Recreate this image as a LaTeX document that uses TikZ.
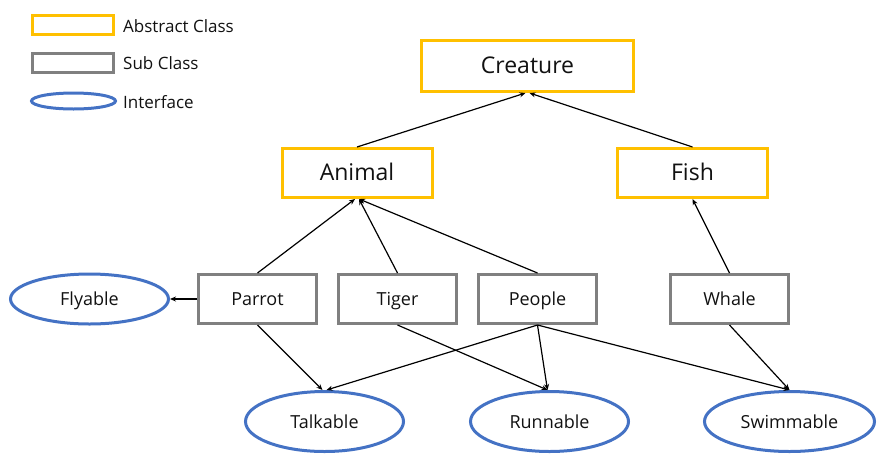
\documentclass[tikz,border=0pt]{standalone}
\usepackage{fontspec}
\setmainfont{Open Sans}
\usetikzlibrary{shapes.geometric,arrows.meta,positioning}
\definecolor{abstractyellow}{HTML}{FFC000}
\definecolor{subgray}{HTML}{808080}
\definecolor{ifaceblue}{HTML}{4472C4}
\definecolor{textdark}{HTML}{111111}

\begin{document}
\begin{tikzpicture}[x=1pt,y=-1pt,
    abstract/.style={draw=abstractyellow, line width=3pt, rectangle, inner sep=0pt,
        minimum width=150pt, minimum height=49pt, text=textdark,
        text height=19pt, text depth=4pt,
        font=\fontsize{23}{27}\selectfont},
    subclass/.style={draw=subgray, line width=3pt, rectangle, inner sep=0pt,
        minimum width=118pt, minimum height=49pt, text=textdark,
        text height=17pt, text depth=4pt,
        font=\fontsize{18}{22}\selectfont},
    interface/.style={draw=ifaceblue, line width=3pt, ellipse, inner sep=0pt,
        minimum width=158pt, minimum height=60pt, text=textdark,
        text height=17pt, text depth=4pt,
        font=\fontsize{18}{22}\selectfont},
    legendkey/.style={text height=0pt, text depth=0pt},
    legendtext/.style={text=textdark, font=\fontsize{17}{20}\selectfont, inner sep=0pt},
    arr/.style={-{Stealth[length=6pt,width=5pt]}, line width=1.2pt, black}]
    \useasboundingbox (0,0) rectangle (891,469);
    % Draw the legend
    \node[abstract, legendkey, minimum width=81pt, minimum height=19pt] (legabs) at (73,25) {};
    \node[subclass, legendkey, minimum width=81pt, minimum height=19pt] (legsub) at (73,62.5) {};
    \node[interface, legendkey, minimum width=84pt, minimum height=16pt] (legint) at (73.5,101) {};
    \node[legendtext, anchor=west] at (123,26) {Abstract Class};
    \node[legendtext, anchor=west] at (123,63.5) {Sub Class};
    \node[legendtext, anchor=west] at (123,102) {Interface};
    % Draw the abstract classes
    \node[abstract, minimum width=212pt, minimum height=51pt] (creature) at (527.5,66) {Creature};
    \node[abstract] (animal) at (357,173) {Animal};
    \node[abstract] (fish) at (692.5,173) {Fish};
    % Draw the sub classes
    \node[subclass] (parrot) at (257.5,299) {Parrot};
    \node[subclass] (tiger) at (397.5,299) {Tiger};
    \node[subclass] (people) at (537.5,299) {People};
    \node[subclass] (whale) at (729.5,299) {Whale};
    % Draw the interfaces
    \node[interface, minimum height=50pt] (flyable) at (89.5,299) {Flyable};
    \node[interface] (talkable) at (324.5,421.5) {Talkable};
    \node[interface] (runnable) at (549.5,421.5) {Runnable};
    \node[interface, minimum width=170pt] (swimmable) at (789.5,421.5) {Swimmable};
    % Draw the inheritance arrows
    \draw[arr] (animal.north) -- ([xshift=-2pt]creature.south);
    \draw[arr] (fish.north) -- ([xshift=2pt]creature.south);
    \draw[arr] (parrot.north) -- ([xshift=-2pt]animal.south);
    \draw[arr] (tiger.north) -- ([xshift=2pt]animal.south);
    \draw[arr] (people.north) -- ([xshift=2pt]animal.south);
    \draw[arr] (whale.north) -- (fish.south);
    % Draw the interface arrows
    \draw[arr] (parrot.west) -- (flyable.east);
    \draw[arr] (parrot.south) -- ([xshift=-2pt]talkable.north);
    \draw[arr] (people.south) -- ([xshift=2pt]talkable.north);
    \draw[arr] (tiger.south) -- ([xshift=-2pt]runnable.north);
    \draw[arr] (people.south) -- ([xshift=-2pt]runnable.north);
    \draw[arr] (people.south) -- (swimmable.north);
    \draw[arr] (whale.south) -- (swimmable.north);
\end{tikzpicture}
\end{document}
